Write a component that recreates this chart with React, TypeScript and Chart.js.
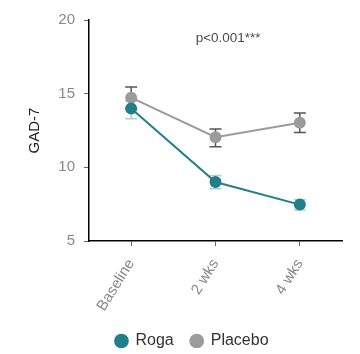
import React, { useEffect, useRef } from "react";
import { Chart, registerables } from "chart.js";

Chart.register(...registerables);

const categories = ["Baseline", "2 wks", "4 wks"];
const rogaMean = [14.0, 9.0, 7.47];
const rogaLow = [13.3, 8.55, 7.1];
const rogaHigh = [14.5, 9.45, 7.8];
const placeboMean = [14.73, 12.04, 13.02];
const placeboLow = [14.0, 11.4, 12.36];
const placeboHigh = [15.45, 12.6, 13.68];
const yTicks = [5, 10, 15, 20];
const pText = "p<0.001***";

const FONT = "'Liberation Sans', Arial, sans-serif";

const errorBars = {
  id: "errorBars",
  beforeDatasetsDraw(chart: any) {
    const { ctx, scales } = chart;
    const x = scales.x;
    const y = scales.y;
    const sets = [
      { lo: placeboLow, hi: placeboHigh, color: "#555555" },
      { lo: rogaLow, hi: rogaHigh, color: "#a6d3d7" },
    ];
    ctx.save();
    ctx.lineWidth = 1.5;
    for (const s of sets) {
      ctx.strokeStyle = s.color;
      s.lo.forEach((lo: number, i: number) => {
        const px = x.getPixelForValue(i);
        const y1 = y.getPixelForValue(lo);
        const y2 = y.getPixelForValue(s.hi[i]);
        ctx.beginPath();
        ctx.moveTo(px, y1);
        ctx.lineTo(px, y2);
        ctx.moveTo(px - 6, y1);
        ctx.lineTo(px + 6, y1);
        ctx.moveTo(px - 6, y2);
        ctx.lineTo(px + 6, y2);
        ctx.stroke();
      });
    }
    ctx.restore();
  },
  afterDraw(chart: any) {
    const { ctx, scales } = chart;
    ctx.save();
    ctx.fillStyle = "#4a4a4a";
    ctx.font = `13.5px ${FONT}`;
    ctx.textAlign = "center";
    ctx.textBaseline = "middle";
    ctx.fillText(pText, scales.x.getPixelForValue(1.15), scales.y.getPixelForValue(18.77));
    ctx.restore();
  },
};

const legendShift = {
  id: "legendShift",
  afterLayout(chart: any) {
    const lg = chart.legend;
    if (lg) {
      lg.left += 21;
      lg.right += 21;
      lg.top += 5;
      lg.bottom += 5;
    }
  },
};

export default function App() {
  const ref = useRef<HTMLCanvasElement>(null);
  useEffect(() => {
    document.body.style.margin = "0";
    const chart = new Chart(ref.current!, {
      type: "line",
      data: {
        labels: categories,
        datasets: [
          {
            label: "Roga",
            data: rogaMean,
            borderColor: "#217f8a",
            backgroundColor: "#217f8a",
            pointBackgroundColor: "#217f8a",
            pointBorderColor: "#217f8a",
            borderWidth: 2,
            pointRadius: 5,
            tension: 0,
          },
          {
            label: "Placebo",
            data: placeboMean,
            borderColor: "#9b9b9b",
            backgroundColor: "#9b9b9b",
            pointBackgroundColor: "#9b9b9b",
            pointBorderColor: "#9b9b9b",
            borderWidth: 2,
            pointRadius: 5,
            tension: 0,
          },
        ],
      },
      options: {
        responsive: false,
        animation: false,
        layout: { padding: { top: 20, right: 18, left: 0, bottom: 0 } },
        plugins: {
          tooltip: { enabled: false },
          legend: {
            position: "bottom",
            labels: {
              usePointStyle: true,
              pointStyle: "circle",
              boxWidth: 12,
              boxHeight: 9,
              padding: 17,
              color: "#333333",
              font: { size: 16, family: FONT },
            },
          },
        },
        scales: {
          x: {
            offset: true,
            grid: {
              display: true,
              drawOnChartArea: false,
              drawTicks: true,
              tickLength: 5,
              color: "#666666",
            },
            border: { color: "#000000", width: 1.5 },
            ticks: {
              minRotation: 58,
              maxRotation: 58,
              color: "#888888",
              font: { size: 15, family: FONT },
              padding: 10,
            },
            afterFit(scale: any) {
              scale.height = 70;
            },
          },
          y: {
            min: 5,
            max: 20,
            afterBuildTicks(scale: any) {
              scale.ticks = yTicks.map((v) => ({ value: v }));
            },
            grid: {
              display: true,
              drawOnChartArea: false,
              drawTicks: true,
              tickLength: 5,
              color: "#666666",
            },
            border: { color: "#000000", width: 1.5 },
            ticks: {
              color: "#888888",
              font: { size: 15, family: FONT },
              padding: 9,
            },
            title: {
              display: true,
              text: "GAD-7",
              color: "#222222",
              font: { size: 15, family: FONT },
              padding: { top: 26, bottom: 0 },
            },
            afterFit(scale: any) {
              scale.width = 89;
            },
          },
        },
      },
      plugins: [errorBars, legendShift],
    });
    return () => chart.destroy();
  }, []);
  return <canvas ref={ref} width={360} height={354} style={{ display: "block" }} />;
}
